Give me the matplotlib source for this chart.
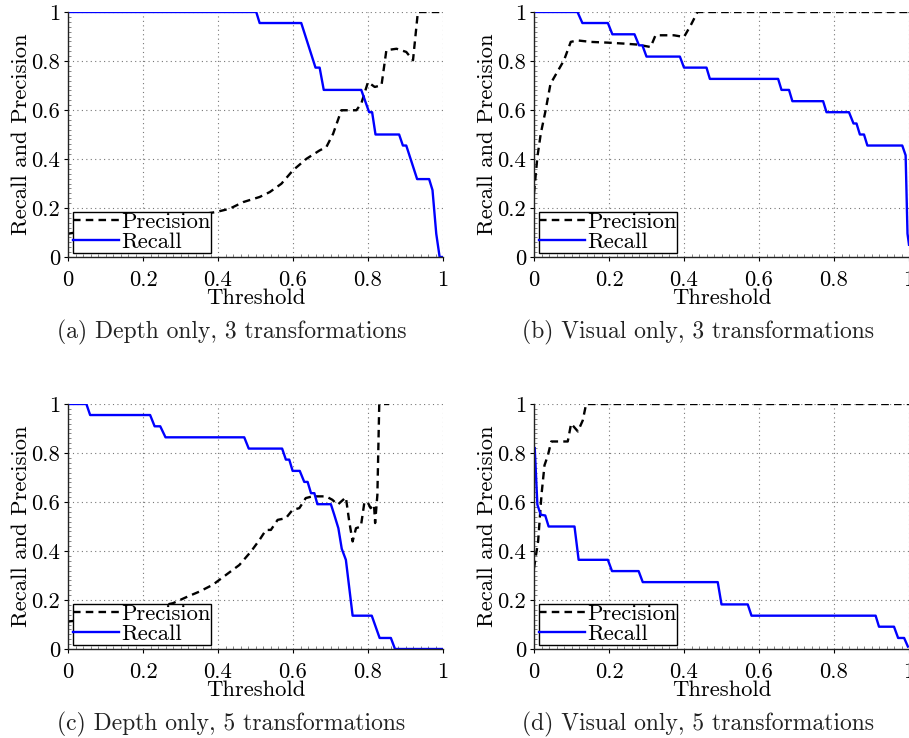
import matplotlib
matplotlib.use("Agg")
import matplotlib.pyplot as plt
from matplotlib.ticker import MultipleLocator

plt.rcParams["font.family"] = ["cmr10", "DejaVu Serif"]
plt.rcParams["axes.formatter.use_mathtext"] = True
plt.rcParams["mathtext.fontset"] = "cm"

# ---- (a) Depth only, 3 transformations ----
a_prec_x = [0.0, 0.1, 0.2, 0.3, 0.396, 0.431, 0.467, 0.511, 0.538, 0.569, 0.6, 0.636,
            0.671, 0.689, 0.707, 0.729, 0.769, 0.782, 0.8, 0.818, 0.836, 0.849, 0.876,
            0.902, 0.92, 0.933, 0.99]
a_prec_y = [0.095, 0.12, 0.14, 0.16, 0.184, 0.197, 0.224, 0.245, 0.265, 0.299, 0.354, 0.401,
            0.435, 0.449, 0.503, 0.599, 0.599, 0.626, 0.714, 0.694, 0.701, 0.844, 0.85,
            0.837, 0.803, 1.0, 1.0]
a_rec_x = [0.0, 0.502, 0.511, 0.622, 0.66, 0.671, 0.682, 0.782, 0.803, 0.811, 0.82, 0.883,
           0.893, 0.902, 0.931, 0.963, 0.972, 0.982, 0.991, 1.0]
a_rec_y = [1.0, 1.0, 0.955, 0.955, 0.773, 0.773, 0.682, 0.682, 0.591, 0.591, 0.5, 0.5,
           0.455, 0.455, 0.318, 0.318, 0.273, 0.095, 0.0, 0.0]

# ---- (b) Visual only, 3 transformations ----
b_prec_x = [0.0, 0.009, 0.018, 0.031, 0.044, 0.062, 0.08, 0.098, 0.116, 0.151, 0.196, 0.24,
            0.276, 0.311, 0.324, 0.373, 0.4, 0.418, 0.436, 1.0]
b_prec_y = [0.26, 0.408, 0.503, 0.599, 0.707, 0.755, 0.803, 0.878, 0.884, 0.878, 0.875, 0.871,
            0.867, 0.857, 0.905, 0.905, 0.898, 0.946, 1.0, 1.0]
b_rec_x = [0.0, 0.116, 0.129, 0.197, 0.209, 0.268, 0.28, 0.289, 0.3, 0.389, 0.4, 0.46,
           0.469, 0.651, 0.66, 0.68, 0.689, 0.771, 0.78, 0.84, 0.852, 0.86, 0.869, 0.88,
           0.889, 0.982, 0.991, 0.996, 1.0]
b_rec_y = [1.0, 1.0, 0.955, 0.955, 0.909, 0.909, 0.864, 0.864, 0.818, 0.818, 0.773, 0.773,
           0.727, 0.727, 0.682, 0.682, 0.636, 0.636, 0.591, 0.591, 0.545, 0.545, 0.5, 0.5,
           0.455, 0.455, 0.415, 0.095, 0.05]

# ---- (c) Depth only, 5 transformations ----
c_prec_x = [0.0, 0.1, 0.2, 0.28, 0.319, 0.35, 0.386, 0.421, 0.457, 0.488, 0.511, 0.528,
            0.541, 0.559, 0.581, 0.599, 0.617, 0.634, 0.652, 0.688, 0.705, 0.719, 0.741,
            0.75, 0.759, 0.768, 0.781, 0.79, 0.798, 0.807, 0.816, 0.819, 0.825, 0.83, 0.856]
c_prec_y = [0.112, 0.13, 0.16, 0.187, 0.214, 0.234, 0.262, 0.302, 0.343, 0.398, 0.446, 0.486,
            0.486, 0.527, 0.534, 0.568, 0.575, 0.616, 0.623, 0.623, 0.609, 0.589, 0.619,
            0.52, 0.439, 0.493, 0.5, 0.595, 0.602, 0.575, 0.589, 0.514, 0.629, 1.0, 1.0]
c_rec_x = [0.0, 0.049, 0.059, 0.219, 0.231, 0.246, 0.26, 0.47, 0.482, 0.571, 0.581, 0.59,
           0.599, 0.618, 0.63, 0.639, 0.648, 0.657, 0.665, 0.701, 0.71, 0.721, 0.73, 0.741,
           0.759, 0.81, 0.831, 0.861, 0.872, 1.0]
c_rec_y = [1.0, 1.0, 0.955, 0.955, 0.909, 0.909, 0.864, 0.864, 0.818, 0.818, 0.773, 0.773,
           0.727, 0.727, 0.682, 0.682, 0.636, 0.636, 0.591, 0.591, 0.548, 0.493, 0.409, 0.364,
           0.136, 0.136, 0.045, 0.045, 0.0, 0.0]

# ---- (d) Visual only, 5 transformations ----
d_prec_x = [0.0, 0.011, 0.02, 0.028, 0.037, 0.046, 0.09, 0.099, 0.117, 0.13, 0.139, 1.0]
d_prec_y = [0.33, 0.44, 0.63, 0.75, 0.79, 0.847, 0.847, 0.92, 0.888, 0.933, 1.0, 1.0]
d_rec_x = [0.002, 0.009, 0.018, 0.03, 0.039, 0.108, 0.119, 0.197, 0.208, 0.279, 0.29, 0.49,
           0.5, 0.57, 0.58, 0.911, 0.92, 0.96, 0.971, 0.987, 0.997]
d_rec_y = [0.82, 0.589, 0.548, 0.545, 0.5, 0.5, 0.364, 0.364, 0.318, 0.318, 0.273, 0.273,
           0.182, 0.182, 0.136, 0.136, 0.091, 0.091, 0.045, 0.045, 0.01]

captions = ["(a) Depth only, 3 transformations", "(b) Visual only, 3 transformations",
            "(c) Depth only, 5 transformations", "(d) Visual only, 5 transformations"]
tick_vals = [0, 0.2, 0.4, 0.6, 0.8, 1]
tick_labels = ["0", "0.2", "0.4", "0.6", "0.8", "1"]

panels = [
    (a_prec_x, a_prec_y, a_rec_x, a_rec_y),
    (b_prec_x, b_prec_y, b_rec_x, b_rec_y),
    (c_prec_x, c_prec_y, c_rec_x, c_rec_y),
    (d_prec_x, d_prec_y, d_rec_x, d_rec_y),
]

fig = plt.figure(figsize=(9.09, 7.38), dpi=100)
W, H = 909.0, 738.0
boxes = [  # left, top, right, bottom in pixels
    (68, 12, 443, 257),
    (534, 12, 909, 257),
    (68, 404, 443, 649),
    (534, 404, 909, 649),
]
FS = 16.3

for i, ((px, py, rx, ry), (l, t, r, b)) in enumerate(zip(panels, boxes)):
    ax = fig.add_axes([l / W, 1 - b / H, (r - l) / W, (b - t) / H])
    ax.plot(px, py, color="black", linestyle=(0, (3.2, 2.2)), linewidth=1.7, label="Precision")
    ax.plot(rx, ry, color="#0000ff", linestyle="-", linewidth=1.7, label="Recall")
    ax.set_xlim(0, 1)
    ax.set_ylim(0, 1)
    ax.set_xticks(tick_vals)
    ax.set_xticklabels(tick_labels)
    ax.set_yticks(tick_vals)
    ax.set_yticklabels(tick_labels)
    ax.xaxis.set_minor_locator(MultipleLocator(0.02))
    ax.yaxis.set_minor_locator(MultipleLocator(0.02))
    ax.tick_params(which="major", direction="out", length=3, width=0.8, labelsize=FS)
    ax.tick_params(axis="x", which="major", pad=6.5)
    ax.tick_params(axis="y", which="major", pad=2.5)
    ax.tick_params(which="minor", direction="in", length=2, width=0.5, color="#555555")
    ax.tick_params(top=False, right=False, which="both")
    for side in ("top", "right"):
        ax.spines[side].set_visible(False)
    for side in ("left", "bottom"):
        ax.spines[side].set_linewidth(1.0)
        ax.spines[side].set_color("#222222")
    ax.grid(True, which="major", linestyle=(0, (1, 3)), color="#777777", linewidth=0.8)
    ax.set_axisbelow(True)
    ax.set_xlabel("Threshold", fontsize=FS, labelpad=-1)
    ax.set_ylabel("Recall and Precision", fontsize=FS, labelpad=0)
    leg = ax.legend(loc="lower left", bbox_to_anchor=(0.013, 0.018), borderaxespad=0,
                    fontsize=FS, fancybox=False, framealpha=1, edgecolor="black",
                    labelspacing=0.0, borderpad=0.02, handlelength=2.0,
                    handletextpad=0.1)
    leg.get_frame().set_linewidth(1.0)
    cx = (l + r) / 2 - 24
    fig.text(cx / W, 1 - (b + 75) / H, captions[i], fontsize=17, ha="center", va="center",
             color="#222222")

fig.savefig("out.png", dpi=100)
